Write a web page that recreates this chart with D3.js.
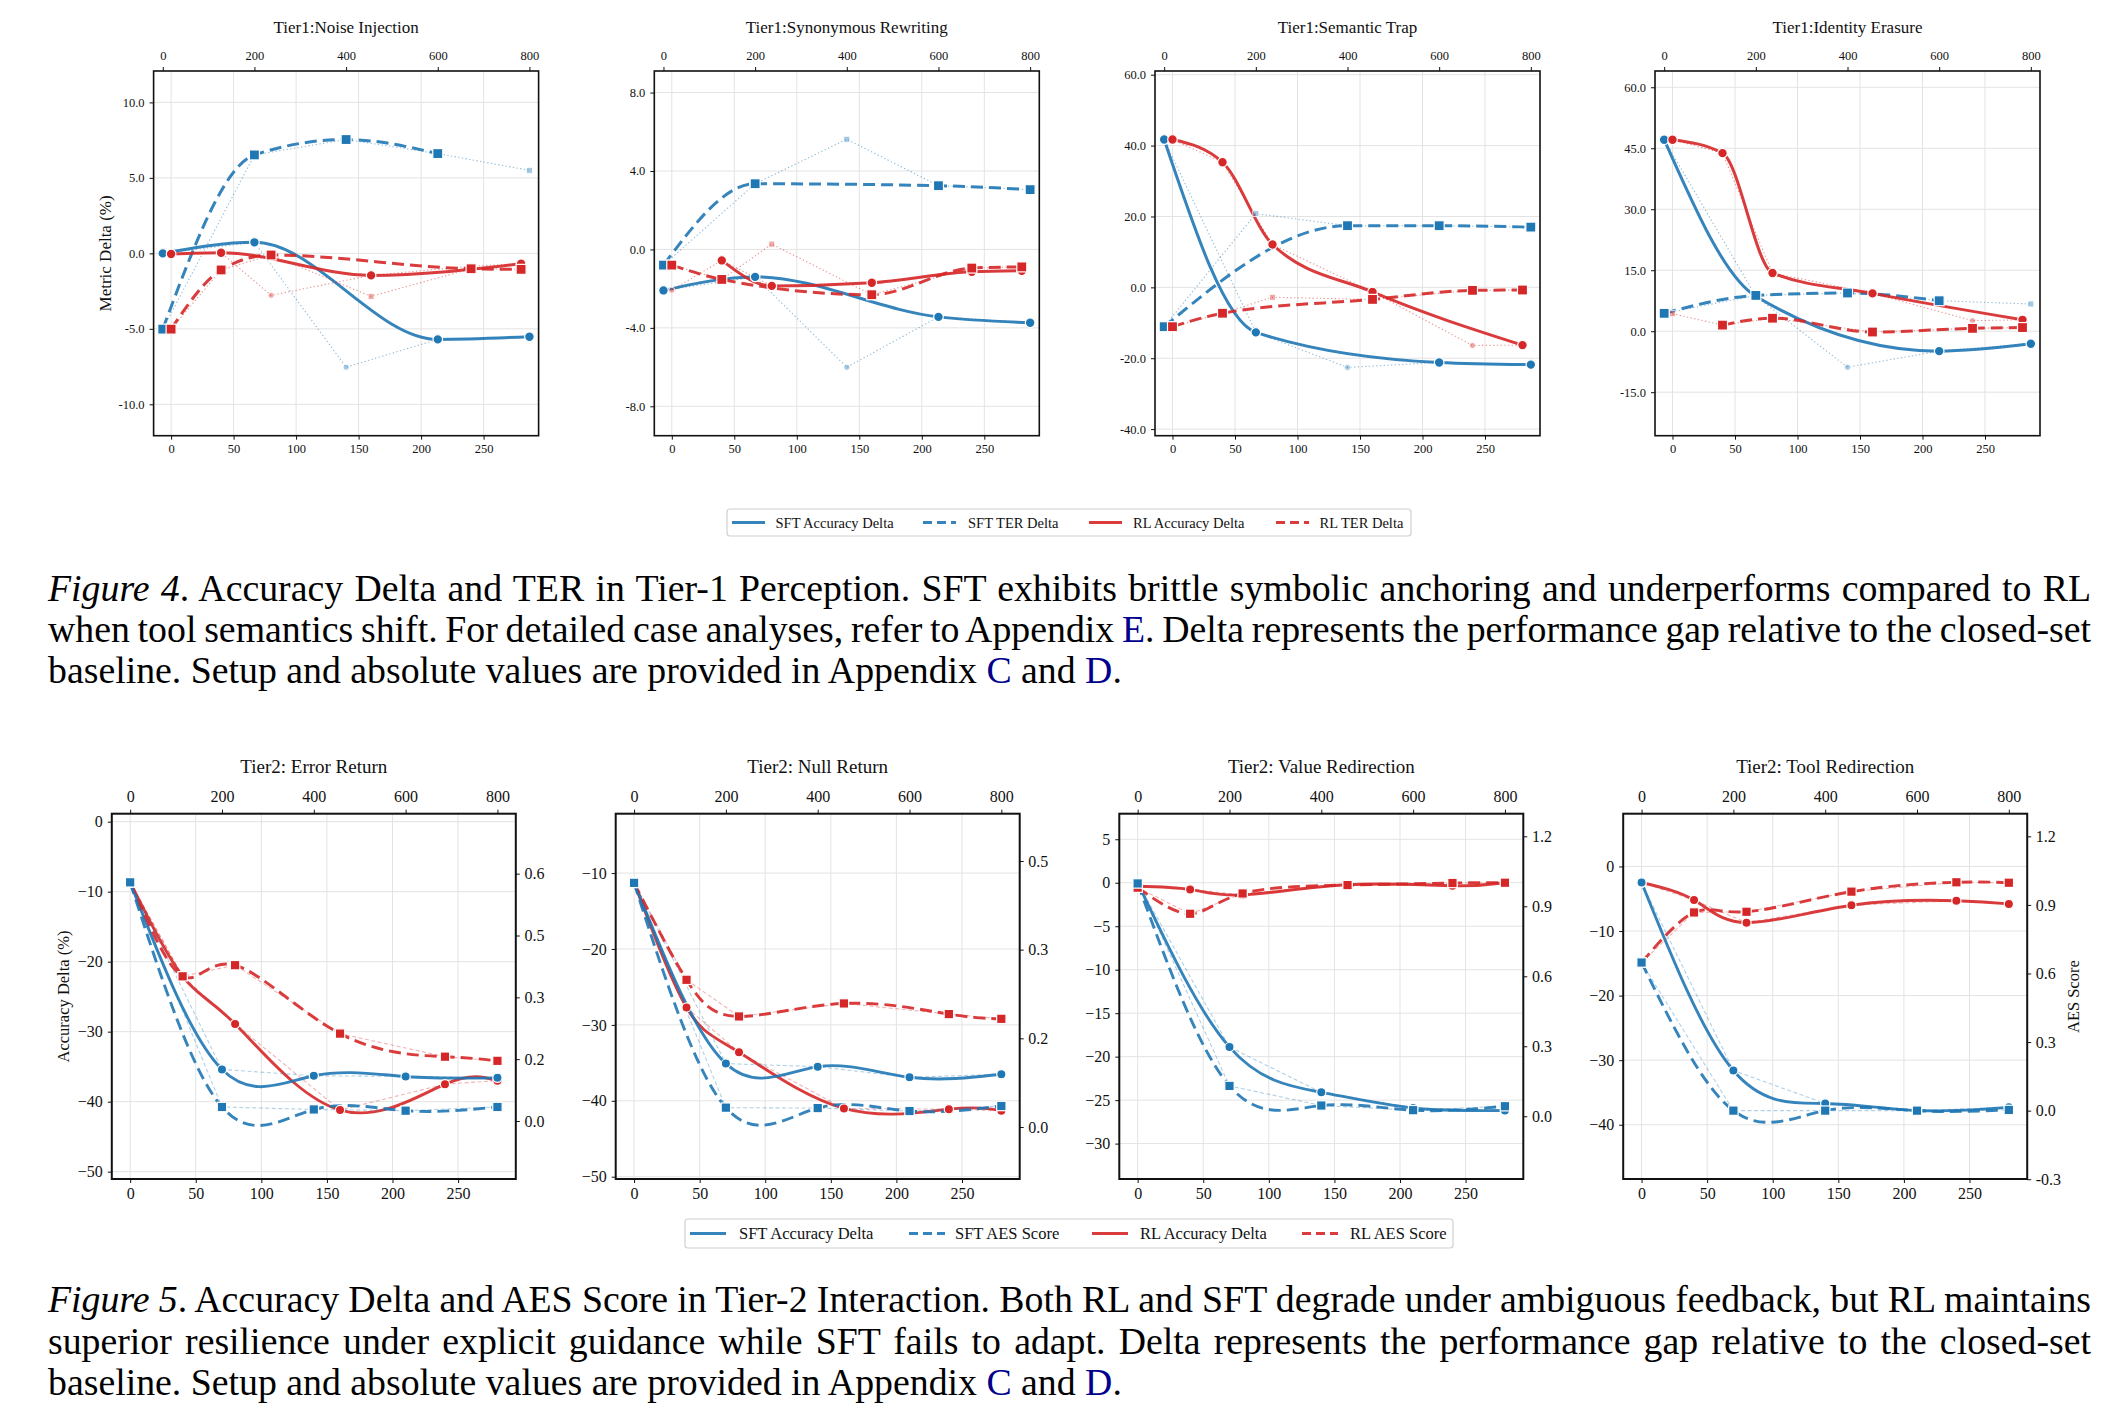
<!DOCTYPE html>
<html><head><meta charset="utf-8">
<script src="https://cdn.jsdelivr.net/npm/d3@7"></script>
<style>body{margin:0;background:#fff}svg{display:block}</style>
</head><body><svg id="c" width="2109" height="1414"></svg>
<script>
// ================= DATA =================
const sftSteps = [0, 200, 400, 600, 800];
const rlSteps = [0, 40, 80, 160, 240, 280];
const bottomTicks = [0, 50, 100, 150, 200, 250];
const topTicks = [0, 200, 400, 600, 800];

// ---- Tier 1 ----
const t1Titles = ["Tier1:Noise Injection", "Tier1:Synonymous Rewriting", "Tier1:Semantic Trap", "Tier1:Identity Erasure"];
const t1SftAcc = [[0.0, 0.73, -7.54, -5.70, -5.52], [-2.09, -1.40, -6.01, -3.44, -3.74], [41.7, -12.7, -22.6, -21.2, -21.8], [47.1, 8.6, -8.85, -4.9, -3.1]];
const t1SftAccOut = [[0,0,1,0,0], [0,0,1,0,0], [0,0,1,0,0], [0,0,1,0,0]];
const t1SftTer = [[-5.02, 6.52, 7.54, 6.61, 5.50], [-0.80, 3.35, 5.62, 3.25, 3.05], [-11.1, 20.8, 17.4, 17.4, 17.0], [4.4, 8.8, 9.4, 7.5, 6.7]];
const t1SftTerOut = [[0,0,0,0,1], [0,0,1,0,0], [0,1,0,0,0], [0,0,0,0,1]];
const t1RlAcc = [[-0.04, 0.04, -2.78, -1.46, -0.85, -0.69], [-2.08, -0.56, -1.86, -1.70, -1.14, -1.09], [41.7, 35.3, 12.1, -1.3, -16.4, -16.3], [47.1, 43.8, 14.3, 9.3, 2.6, 2.8]];
const t1RlAccOut = [[0,0,1,0,1,0], [1,0,0,0,0,0], [0,0,0,0,1,0], [0,0,0,0,1,0]];
const t1RlTer = [[-5.02, -1.10, -0.11, -2.85, -1.02, -1.06], [-0.80, -1.53, 0.27, -2.31, -0.95, -0.89], [-11.1, -7.3, -2.8, -3.4, -0.85, -0.75], [4.3, 1.5, 3.2, -0.2, 0.7, 0.9]];
const t1RlTerOut = [[0,0,0,1,0,0], [0,0,1,0,0,0], [0,0,1,0,0,0], [1,0,0,0,0,0]];
const t1YTicks = [[-10, -5, 0, 5, 10], [-8, -4, 0, 4, 8], [-40, -20, 0, 20, 40, 60], [-15, 0, 15, 30, 45, 60]];
const t1YLim = [[-12.08, 12.08], [-9.5, 9.1], [-41.86, 61.05], [-25.7, 64.0]];
const t1Legend = ["SFT Accuracy Delta", "SFT TER Delta", "RL Accuracy Delta", "RL TER Delta"];

// ---- Tier 2 ----
const t2Titles = ["Tier2: Error Return", "Tier2: Null Return", "Tier2: Value Redirection", "Tier2: Tool Redirection"];
const t2SftAcc = [[-8.67, -35.4, -36.3, -36.4, -36.6], [-11.23, -35.1, -35.5, -36.9, -36.5], [0.0, -18.9, -24.1, -25.9, -26.2], [-2.48, -31.6, -36.7, -37.8, -37.3]];
const t2SftAes = [[0.579, 0.034, 0.028, 0.025, 0.034], [0.413, 0.0327, 0.032, 0.027, 0.0355], [0.998, 0.130, 0.046, 0.026, 0.043], [0.648, 0.0, 0.0, 0.0, 0.003]];
const t2RlAcc = [[-8.67, -22.1, -28.9, -41.2, -37.5, -37.0], [-11.23, -27.7, -33.6, -41.0, -41.1, -41.3], [-0.4, -0.77, -1.4, -0.23, -0.35, 0.0], [-2.48, -5.2, -8.7, -6.0, -5.3, -5.8]];
const t2RlAes = [[0.579, 0.351, 0.378, 0.212, 0.156, 0.146], [0.413, 0.249, 0.187, 0.209, 0.191, 0.183], [0.98, 0.868, 0.955, 0.991, 1.0, 1.001], [0.648, 0.867, 0.870, 0.958, 0.999, 0.997]];
const t2YTicks = [[0, -10, -20, -30, -40, -50], [-10, -20, -30, -40, -50], [5, 0, -5, -10, -15, -20, -25, -30], [0, -10, -20, -30, -40]];
const t2YLim = [[-51.05, 1.14], [-50.3, -2.18], [-34.07, 7.94], [-48.4, 8.17]];
const t2RTicks = [[0, 0.15, 0.3, 0.45, 0.6], [0, 0.15, 0.3, 0.45], [0, 0.3, 0.6, 0.9, 1.2], [-0.3, 0, 0.3, 0.6, 0.9, 1.2]];
const t2RLabels = [["0.0", "0.2", "0.3", "0.5", "0.6"], ["0.0", "0.2", "0.3", "0.5"], ["0.0", "0.3", "0.6", "0.9", "1.2"], ["-0.3", "0.0", "0.3", "0.6", "0.9", "1.2"]];
const t2RLim = [[-0.1407, 0.7455], [-0.088, 0.530], [-0.269, 1.297], [-0.299, 1.299]];
const t2Legend = ["SFT Accuracy Delta", "SFT AES Score", "RL Accuracy Delta", "RL AES Score"];

// ---- Captions ----
const cap4 = [
  [["Figure 4", "i"], [". Accuracy Delta and TER in Tier-1 Perception. SFT exhibits brittle symbolic anchoring and underperforms compared to RL", ""]],
  [["when tool semantics shift. For detailed case analyses, refer to Appendix ", ""], ["E", "b"], [". Delta represents the performance gap relative to the closed-set", ""]],
  [["baseline. Setup and absolute values are provided in Appendix ", ""], ["C", "b"], [" and ", ""], ["D", "b"], [".", ""]]
];
const cap5 = [
  [["Figure 5", "i"], [". Accuracy Delta and AES Score in Tier-2 Interaction. Both RL and SFT degrade under ambiguous feedback, but RL maintains", ""]],
  [["superior resilience under explicit guidance while SFT fails to adapt. Delta represents the performance gap relative to the closed-set", ""]],
  [["baseline. Setup and absolute values are provided in Appendix ", ""], ["C", "b"], [" and ", ""], ["D", "b"], [".", ""]]
];

// ================= LAYOUT / STYLE =================
const BLUE = "#1f77b4", RED = "#d62728", LINK = "#00008c";
const FONT = "'Liberation Serif','Times New Roman',serif";
const svg = d3.select("#c");
svg.append("rect").attr("width", 2109).attr("height", 1414).attr("fill", "#fff");

const T1 = {xs: [153.6, 654.3, 1155, 1655], y: 71, w: 385, h: 364.7, titleY: 32.7, fs: 12.5, titleFs: 17, padT: 7, padB: 4.1,
  topDom: [-20, 820], bottomDom: [-14, 294], frameW: 1.6, lw: 3, mr: 4.8, ms: 10};
const T2 = {xs: [111.8, 615.7, 1119.3, 1623.2], y: 813.7, w: 404, h: 365.3, titleY: 772.7, fs: 16, titleFs: 19, padT: 7.7, padB: 4.3,
  topDom: [-40, 840], bottomDom: [-14, 294], frameW: 2, lw: 2.9, mr: 4.6, ms: 9.4};

let clipId = 0;
function drawSeries(plot, mk, s, L) {
  const pts = s.xs.map((x, i) => ({x: s.xScale(x), y: s.yScale(s.ys[i]), out: s.out ? s.out[i] : 0}));
  // thin raw connector
  plot.append("path").attr("d", d3.line().x(d => d.x).y(d => d.y)(pts))
    .attr("fill", "none").attr("stroke", s.color).attr("stroke-opacity", s.tier === 1 ? 0.5 : 0.35)
    .attr("stroke-width", 1.1).attr("stroke-dasharray", s.tier === 1 ? "1.3,2.4" : "4,2.5");
  const good = pts.filter(d => !d.out);
  plot.append("path").attr("d", d3.line().x(d => d.x).y(d => d.y).curve(s.tier === 1 ? d3.curveMonotoneX : d3.curveNatural)(good))
    .attr("fill", "none").attr("stroke", s.color).attr("stroke-opacity", 0.9)
    .attr("stroke-width", L.lw).attr("stroke-dasharray", s.dashed ? "12,6" : null)
    .attr("stroke-linecap", "butt");
  pts.forEach(d => {
    const faint = d.out;
    const r = faint ? 3 : L.mr, side = faint ? 6 : L.ms;
    let m;
    if (s.marker === "circle") {
      m = mk.append("circle").attr("cx", d.x).attr("cy", d.y).attr("r", r);
    } else {
      m = mk.append("rect").attr("x", d.x - side / 2).attr("y", d.y - side / 2).attr("width", side).attr("height", side);
    }
    m.attr("fill", s.color).attr("fill-opacity", faint ? 0.4 : 1)
      .attr("stroke", "#fff").attr("stroke-width", faint ? 0.8 : 1.2);
  });
}

function styleAxis(sel, fs) {
  sel.select(".domain").remove();
  sel.selectAll("text").attr("font-family", FONT).attr("font-size", fs).attr("fill", "#111");
  sel.selectAll(".tick line").attr("stroke", "#111").attr("stroke-width", 1);
}

function panel(L, idx, cfg) {
  const x0 = L.xs[idx];
  const g = svg.append("g").attr("transform", `translate(${x0},${L.y})`);
  const xB = d3.scaleLinear().domain(L.bottomDom).range([0, L.w]);
  const xT = d3.scaleLinear().domain(L.topDom).range([0, L.w]);
  const yL = d3.scaleLinear().domain(cfg.yDom).range([L.h, 0]);
  const yR = cfg.rDom ? d3.scaleLinear().domain(cfg.rDom).range([L.h, 0]) : null;

  const grid = g.append("g");
  grid.selectAll("line.v").data(bottomTicks).join("line").attr("class", "v")
    .attr("x1", d => xB(d)).attr("x2", d => xB(d)).attr("y1", 0).attr("y2", L.h)
    .attr("stroke", "#e3e3e3").attr("stroke-width", 1);
  grid.selectAll("line.h").data(cfg.yTicks).join("line").attr("class", "h")
    .attr("x1", 0).attr("x2", L.w).attr("y1", d => yL(d)).attr("y2", d => yL(d))
    .attr("stroke", "#e3e3e3").attr("stroke-width", 1);

  const id = "clip" + (clipId++);
  g.append("clipPath").attr("id", id).append("rect").attr("width", L.w).attr("height", L.h);
  const plot = g.append("g").attr("clip-path", `url(#${id})`);
  const mk = g.append("g");
  cfg.series.forEach(s => {
    s.xScale = s.axisX === "top" ? xT : xB;
    s.yScale = s.axisY === "right" ? yR : yL;
    const sub = plot.append("g"), subm = mk.append("g");
    drawSeries(sub, subm, s, L);
  });
  // frame
  g.append("rect").attr("width", L.w).attr("height", L.h).attr("fill", "none")
    .attr("stroke", "#111").attr("stroke-width", L.frameW);
  // axes
  g.append("g").call(d3.axisLeft(yL).tickValues(cfg.yTicks).tickFormat(cfg.yFmt).tickSize(4).tickPadding(5)).call(a => styleAxis(a, L.fs));
  g.append("g").attr("transform", `translate(0,${L.h})`)
    .call(d3.axisBottom(xB).tickValues(bottomTicks).tickFormat(d => String(d)).tickSize(4).tickPadding(L.padB)).call(a => styleAxis(a, L.fs));
  g.append("g").call(d3.axisTop(xT).tickValues(topTicks).tickFormat(d => String(d)).tickSize(4).tickPadding(L.padT)).call(a => styleAxis(a, L.fs));
  if (yR) {
    g.append("g").attr("transform", `translate(${L.w},0)`)
      .call(d3.axisRight(yR).tickValues(cfg.rTicks).tickFormat((d, i) => cfg.rLabels[i]).tickSize(4).tickPadding(4.6)).call(a => styleAxis(a, L.fs));
  }
  // title
  g.append("text").attr("x", L.w / 2).attr("y", L.titleY - L.y).attr("text-anchor", "middle")
    .attr("font-family", FONT).attr("font-size", L.titleFs).attr("fill", "#111").text(cfg.title);
  return g;
}

function rotLabel(x, y, txt, fs) {
  svg.append("text").attr("transform", `translate(${x},${y}) rotate(-90)`).attr("text-anchor", "middle")
    .attr("font-family", FONT).attr("font-size", fs).attr("fill", "#111").text(txt);
}

// ---- Tier 1 panels ----
const fmt1 = d => d.toFixed(1);
for (let i = 0; i < 4; i++) {
  panel(T1, i, {
    title: t1Titles[i], yDom: t1YLim[i], yTicks: t1YTicks[i], yFmt: fmt1,
    series: [
      {tier: 1, xs: sftSteps, ys: t1SftAcc[i], out: t1SftAccOut[i], axisX: "top", axisY: "left", color: BLUE, dashed: false, marker: "circle"},
      {tier: 1, xs: sftSteps, ys: t1SftTer[i], out: t1SftTerOut[i], axisX: "top", axisY: "left", color: BLUE, dashed: true, marker: "square"},
      {tier: 1, xs: rlSteps, ys: t1RlAcc[i], out: t1RlAccOut[i], axisX: "bottom", axisY: "left", color: RED, dashed: false, marker: "circle"},
      {tier: 1, xs: rlSteps, ys: t1RlTer[i], out: t1RlTerOut[i], axisX: "bottom", axisY: "left", color: RED, dashed: true, marker: "square"}
    ]
  });
}
rotLabel(110.5, 253.4, "Metric Delta (%)", 17);

// ---- Tier 2 panels ----
const fmt2 = d => (d < 0 ? "\u2212" : "") + Math.abs(d);
for (let i = 0; i < 4; i++) {
  panel(T2, i, {
    title: t2Titles[i], yDom: t2YLim[i], yTicks: t2YTicks[i], yFmt: fmt2,
    rDom: t2RLim[i], rTicks: t2RTicks[i], rLabels: t2RLabels[i],
    series: [
      {tier: 2, xs: rlSteps, ys: t2RlAcc[i], axisX: "bottom", axisY: "left", color: RED, dashed: false, marker: "circle"},
      {tier: 2, xs: sftSteps, ys: t2SftAcc[i], axisX: "top", axisY: "left", color: BLUE, dashed: false, marker: "circle"},
      {tier: 2, xs: rlSteps, ys: t2RlAes[i], axisX: "bottom", axisY: "right", color: RED, dashed: true, marker: "square"},
      {tier: 2, xs: sftSteps, ys: t2SftAes[i], axisX: "top", axisY: "right", color: BLUE, dashed: true, marker: "square"}
    ]
  });
}
rotLabel(68.5, 996.5, "Accuracy Delta (%)", 16.5);
rotLabel(2078.6, 996.5, "AES Score", 16.5);

// ---- Legends ----
function legend(box, items, fs, baseline) {
  svg.append("rect").attr("x", box[0]).attr("y", box[1]).attr("width", box[2] - box[0]).attr("height", box[3] - box[1])
    .attr("rx", 3).attr("fill", "#fff").attr("stroke", "#d0d0d0").attr("stroke-width", 1.2);
  const cy = (box[1] + box[3]) / 2;
  items.forEach(it => {
    svg.append("line").attr("x1", it.sx).attr("x2", it.sx + it.len).attr("y1", cy).attr("y2", cy)
      .attr("stroke", it.color).attr("stroke-opacity", 0.9).attr("stroke-width", 3)
      .attr("stroke-dasharray", it.dashed ? "9,5" : null);
    svg.append("text").attr("x", it.tx).attr("y", baseline).attr("font-family", FONT).attr("font-size", fs)
      .attr("fill", "#111").text(it.label);
  });
}
const legColors = [BLUE, BLUE, RED, RED], legDash = [false, true, false, true];
const leg1X = [[732, 775.5], [923, 968], [1089, 1133], [1276, 1319.6]];
legend([727, 509, 1411, 536], t1Legend.map((l, i) => ({label: l, color: legColors[i], dashed: legDash[i], sx: leg1X[i][0], tx: leg1X[i][1], len: 33})), 14.5, 527.5);
const leg2X = [[690, 739], [909, 955], [1092, 1140], [1302, 1350]];
legend([685, 1219, 1453, 1248], t2Legend.map((l, i) => ({label: l, color: legColors[i], dashed: legDash[i], sx: leg2X[i][0], tx: leg2X[i][1], len: 36})), 16.5, 1238.5);

// ---- Captions ----
function caption(lines, baselines, justify) {
  const left = 48, right = 2091;
  lines.forEach((segs, li) => {
    const t = svg.append("text").attr("x", left).attr("y", baselines[li]).attr("font-family", FONT)
      .attr("font-size", 37.8).attr("fill", "#000");
    segs.forEach(sg => {
      const ts = t.append("tspan").text(sg[0]);
      if (sg[1] === "i") ts.attr("font-style", "italic");
      if (sg[1] === "b") ts.attr("fill", LINK);
    });
    if (justify[li]) {
      const nat = t.node().getComputedTextLength();
      const spaces = segs.map(s => s[0]).join("").split(" ").length - 1;
      if (spaces > 0) t.attr("word-spacing", (right - left - nat) / spaces);
    }
  });
}
caption(cap4, [601, 642, 683], [true, true, false]);
caption(cap5, [1312, 1353.5, 1395], [true, true, false]);
</script></body></html>
